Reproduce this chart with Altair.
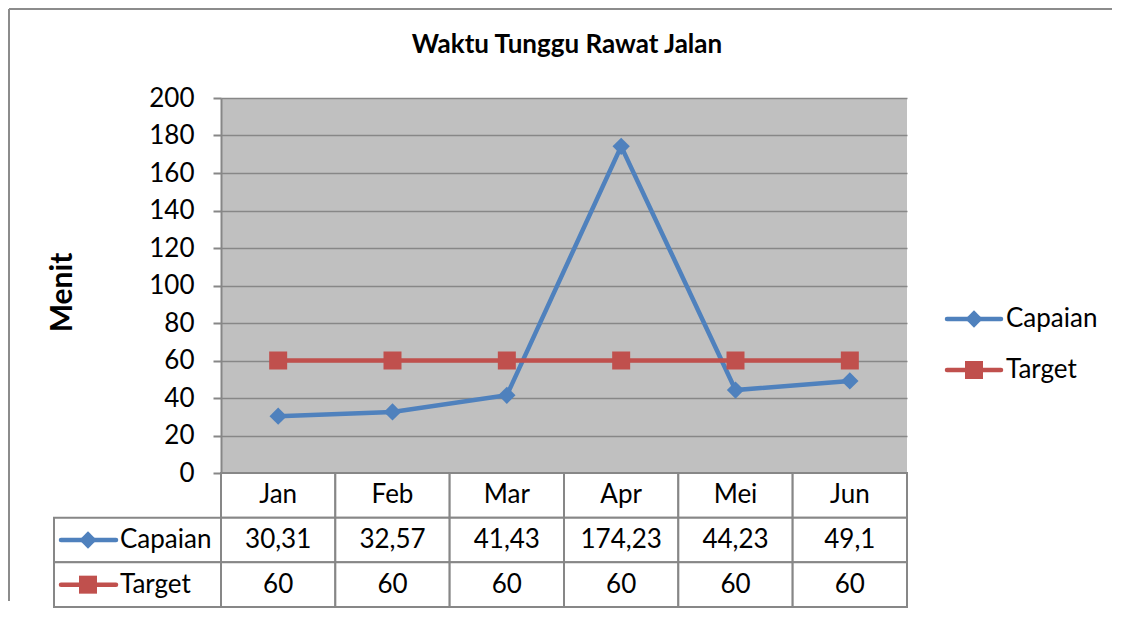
import altair as alt
import pandas as pd

# ---------------- data ----------------
months = ["Jan", "Feb", "Mar", "Apr", "Mei", "Jun"]
series = ["Capaian", "Target"]
capaian = [30.31, 32.57, 41.43, 174.23, 44.23, 49.1]
target = [60, 60, 60, 60, 60, 60]
y_ticks = [0, 20, 40, 60, 80, 100, 120, 140, 160, 180, 200]
chart_title = "Waktu Tunggu Rawat Jalan"
y_title = "Menit"
header_key = "Bulan"

# ---------------- style ----------------
colors = ["#4F81BD", "#C0504D"]
shapes = ["diamond", "square"]
marker_sizes = [300, 324]
FONT = "Lato"
GRID = "#878787"
PLOT_BG = "#C0C0C0"
PW, PH = 686, 375      # plot area
LW = 167               # table label column
RW = 200               # legend column
TH = 134               # table height


def fmt(v):
    return f"{v:g}".replace(".", ",")


values = {"Capaian": capaian, "Target": target}
long_rows = []
for s in series:
    for m, v in zip(months, values[s]):
        long_rows.append({"series": s, "month": m, "value": v})
df = pd.DataFrame(long_rows)

row_keys = [header_key] + series
cells = []
for i, m in enumerate(months):
    cells.append({"month": m, "row": header_key, "text": m})
    for s in series:
        cells.append({"month": m, "row": s, "text": fmt(values[s][i])})
df_cells = pd.DataFrame(cells)
df_series = pd.DataFrame({"series": series})

color_enc = alt.Color("series:N", scale=alt.Scale(domain=series, range=colors), legend=None)
shape_enc = alt.Shape("series:N", scale=alt.Scale(domain=series, range=shapes), legend=None)
size_enc = alt.Size("series:O", scale=alt.Scale(domain=series, range=marker_sizes), legend=None)

# ---------------- line chart ----------------
xs = alt.X("month:N", scale=alt.Scale(type="point", domain=months, padding=0.5), axis=None)
ys = alt.Y(
    "value:Q",
    scale=alt.Scale(domain=[0, 200]),
    axis=alt.Axis(
        values=y_ticks, title=y_title, grid=True, gridColor=GRID, gridWidth=1.6,
        domainColor=GRID, domainWidth=2, tickColor=GRID, tickWidth=2, tickSize=8,
        labelFont=FONT, labelFontSize=26, labelColor="black", labelPadding=19,
        titleFont=FONT, titleFontSize=30, titleFontWeight="bold", titleColor="black",
        titleX=-159, titleY=194, titleBaseline="middle",
    ),
)
lines = alt.Chart(df).mark_line(strokeWidth=4.5).encode(x=xs, y=ys, color=color_enc, detail="series:N")
pts = alt.Chart(df).mark_point(filled=True, opacity=1).encode(
    x=xs, y=ys, color=color_enc, shape=shape_enc, size=size_enc
)
top = alt.layer(lines, pts).properties(
    width=PW, height=PH,
    title=alt.TitleParams(chart_title, font=FONT, fontSize=26, fontWeight="bold", color="black",
                          anchor="middle", frame="group", offset=27, dx=3),
    view=alt.ViewBackground(fill=PLOT_BG, stroke=None),
)

# ---------------- data table ----------------
tx_band = alt.X("month:N", scale=alt.Scale(type="band", domain=months, paddingInner=0, paddingOuter=0), axis=None)
ty_band = alt.Y("row:N", scale=alt.Scale(type="band", domain=row_keys, paddingInner=0, paddingOuter=0), axis=None)
tx_c = alt.X("month:N", scale=alt.Scale(type="band", domain=months, paddingInner=0, paddingOuter=0), axis=None, bandPosition=0.5)
ty_c = alt.Y("row:N", scale=alt.Scale(type="band", domain=row_keys, paddingInner=0, paddingOuter=0), axis=None, bandPosition=0.5)

t_rect = alt.Chart(df_cells).mark_rect(fill="white", stroke=GRID, strokeWidth=2).encode(x=tx_band, y=ty_band)
t_text = alt.Chart(df_cells).mark_text(font=FONT, fontSize=26, color="black", baseline="middle").encode(
    x=tx_c, y=ty_c, text="text:N"
)
table = alt.layer(t_rect, t_text).properties(width=PW, height=TH)

# ---------------- table label column ----------------
ly_band = alt.Y("series:N", scale=alt.Scale(type="band", domain=row_keys, paddingInner=0, paddingOuter=0), axis=None)
ly_c = alt.Y("series:N", scale=alt.Scale(type="band", domain=row_keys, paddingInner=0, paddingOuter=0), axis=None, bandPosition=0.5)
l_rect = alt.Chart(df_series).mark_rect(fill="white", stroke=GRID, strokeWidth=2).encode(
    y=ly_band, x=alt.value(0), x2=alt.value(LW)
)
l_rule = alt.Chart(df_series).mark_rule(strokeWidth=4.5, strokeCap="round").encode(
    y=ly_c, x=alt.value(7), x2=alt.value(62), color=color_enc
)
l_pt = alt.Chart(df_series).mark_point(filled=True, opacity=1).encode(
    y=ly_c, x=alt.value(34), color=color_enc, shape=shape_enc, size=size_enc
)
l_txt = alt.Chart(df_series).mark_text(font=FONT, fontSize=26, color="black", align="left", baseline="middle").encode(
    y=ly_c, x=alt.value(66), text="series:N"
)
labelcol = alt.layer(l_rect, l_rule, l_pt, l_txt).properties(width=LW, height=TH)

# ---------------- legend ----------------
gy = alt.Y("series:N", scale=alt.Scale(type="point", domain=series, range=[221, 272], padding=0), axis=None)
g_rule = alt.Chart(df_series).mark_rule(strokeWidth=4.5, strokeCap="round").encode(
    y=gy, x=alt.value(40), x2=alt.value(94), color=color_enc
)
g_pt = alt.Chart(df_series).mark_point(filled=True, opacity=1).encode(
    y=gy, x=alt.value(67), color=color_enc, shape=shape_enc, size=size_enc
)
g_txt = alt.Chart(df_series).mark_text(font=FONT, fontSize=26, color="black", align="left", baseline="middle").encode(
    y=gy, x=alt.value(99), text="series:N"
)
legend = alt.layer(g_rule, g_pt, g_txt).properties(width=RW, height=PH)

# ---------------- outer frame (top-left cell) ----------------
frame_df = pd.DataFrame({"k": [0]})
f_left = alt.Chart(frame_df).mark_rule(color="#8C8C8C", strokeWidth=2).encode(
    x=alt.value(-45), y=alt.value(-89), y2=alt.value(503)
)
f_top = alt.Chart(frame_df).mark_rule(color="#8C8C8C", strokeWidth=2).encode(
    x=alt.value(-45), x2=alt.value(1058), y=alt.value(-89)
)
corner = alt.layer(f_left, f_top).properties(width=LW, height=PH)

chart = alt.concat(
    corner, top, legend, labelcol, table,
    columns=3, spacing=0, bounds="flush", align="each",
).properties(padding=0, background="white").configure_view(stroke=None)

chart.save("out.html", embed_options={"renderer": "svg", "actions": False})
